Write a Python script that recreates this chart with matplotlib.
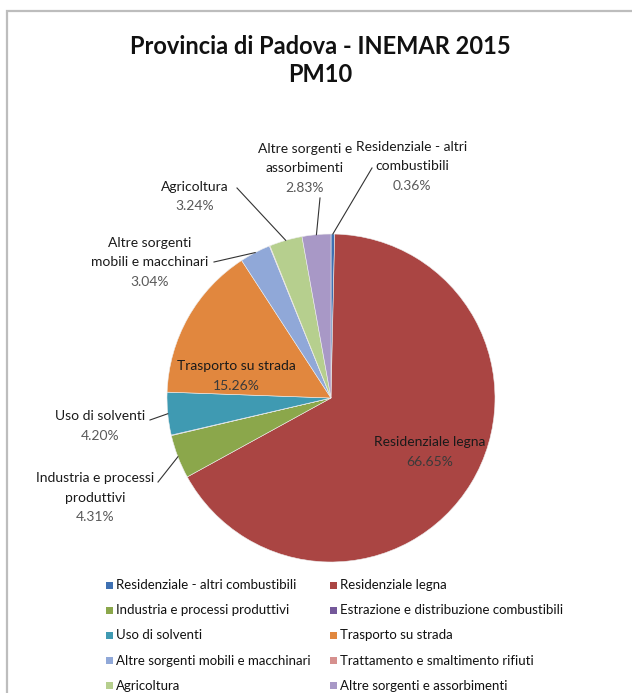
import matplotlib
matplotlib.use("Agg")
import matplotlib.pyplot as plt
import numpy as np
from matplotlib.patches import Rectangle

categories = [
    "Residenziale - altri combustibili",
    "Residenziale legna",
    "Industria e processi produttivi",
    "Estrazione e distribuzione combustibili",
    "Uso di solventi",
    "Trasporto su strada",
    "Altre sorgenti mobili e macchinari",
    "Trattamento e smaltimento rifiuti",
    "Agricoltura",
    "Altre sorgenti e assorbimenti",
]
values = [0.36, 66.65, 4.31, 0.05, 4.20, 15.26, 3.04, 0.06, 3.24, 2.83]
slice_labels = [
    "Residenziale - altri\ncombustibili",
    "Residenziale legna",
    "Industria e processi\nproduttivi",
    None,
    "Uso di solventi",
    "Trasporto su strada",
    "Altre sorgenti\nmobili e macchinari",
    None,
    "Agricoltura",
    "Altre sorgenti e\nassorbimenti",
]
colors = ["#3E70B2", "#AA4543", "#8BA74B", "#74589A", "#3F9AB2", "#E1873E",
          "#90A8D8", "#D6908E", "#B6CF8E", "#A898C6"]

W, H = 632, 693
fig = plt.figure(figsize=(W / 100, H / 100), dpi=100)
FONT = "Lato"

def fx(px):
    return px / W

def fy(py):
    return 1 - py / H

# border
fig.patches.append(Rectangle((fx(7), fy(H + 5)), fx(W + 10), fy(11) - fy(H + 5),
                             transform=fig.transFigure, fill=False,
                             edgecolor="#BDBDBD", linewidth=1.6))

# title
fig.text(fx(320), fy(47), "Provincia di Padova - INEMAR 2015", ha="center", va="center",
         fontsize=17, fontweight="bold", family=FONT, color="#111111")
fig.text(fx(320), fy(75), "PM10", ha="center", va="center",
         fontsize=17, fontweight="bold", family=FONT, color="#111111")

# pie axes
cx, cy, r = 331, 398, 164
ax = fig.add_axes([fx(cx - r), fy(cy + r), fx(2 * r), (2 * r) / H])
wedges, _ = ax.pie(values, colors=colors, startangle=90, counterclock=False,
                   radius=1, wedgeprops=dict(linewidth=0.4, edgecolor="#EEEEEE"))
ax.set_xlim(-1, 1)
ax.set_ylim(-1, 1)
ax.set_aspect("equal")
ax.axis("off")

def to_data(px, py):
    return ((px - cx) / r, (cy - py) / r)

name_col = "#1A1A1A"
pct_col = "#595959"
lsize = 10

# label positions (pixels): (text center x, first line y, leader end x, leader end y)
label_layout = {
    0: (412, 147, 372, 168),
    9: (305, 149, 320, 198),
    8: (195, 187, 237, 188),
    6: (150, 243, 214, 262),
    4: (100, 416, 150, 420),
    2: (95, 478, 158, 482),
}
inside_layout = {
    5: (236, 366),
    1: (430, 442),
}
line_h = 19.5

for i, w in enumerate(wedges):
    if slice_labels[i] is None:
        continue
    pct = f"{values[i]:.2f}%"
    lines = slice_labels[i].split("\n")
    if i in label_layout:
        tx, ty, lx, ly = label_layout[i]
        for k, ln in enumerate(lines):
            x0, y0 = to_data(tx, ty + k * line_h)
            ax.text(x0, y0, ln, ha="center", va="center", fontsize=lsize,
                    family=FONT, color=name_col, clip_on=False)
        x0, y0 = to_data(tx, ty + len(lines) * line_h)
        ax.text(x0, y0, pct, ha="center", va="center", fontsize=lsize,
                family=FONT, color=pct_col, clip_on=False)
        ang = np.deg2rad((w.theta1 + w.theta2) / 2)
        ex, ey = np.cos(ang), np.sin(ang)
        ax.plot([ex, to_data(lx, ly)[0]], [ey, to_data(lx, ly)[1]],
                color="#333333", lw=0.8, clip_on=False)
    else:
        tx, ty = inside_layout[i]
        x0, y0 = to_data(tx, ty)
        ax.text(x0, y0, lines[0], ha="center", va="center", fontsize=lsize,
                family=FONT, color=name_col)
        x0, y0 = to_data(tx, ty + line_h)
        ax.text(x0, y0, pct, ha="center", va="center", fontsize=lsize,
                family=FONT, color="#3A3A3A")

# legend (row-wise, 2 columns), drawn manually
order_rows = [(0, 1), (2, 3), (4, 5), (6, 7), (8, 9)]
col_x = [106, 330]
sq = 7
for row, pair in enumerate(order_rows):
    yc = 585 + row * 25.2
    for c, i in enumerate(pair):
        fig.patches.append(Rectangle((fx(col_x[c]), fy(yc + sq / 2)), fx(sq), sq / H,
                                     transform=fig.transFigure, facecolor=colors[i],
                                     edgecolor="none"))
        fig.text(fx(col_x[c] + sq + 3), fy(yc), categories[i], ha="left", va="center",
                 fontsize=9.5, family=FONT, color="#111111")

fig.savefig("out.png", dpi=100)
